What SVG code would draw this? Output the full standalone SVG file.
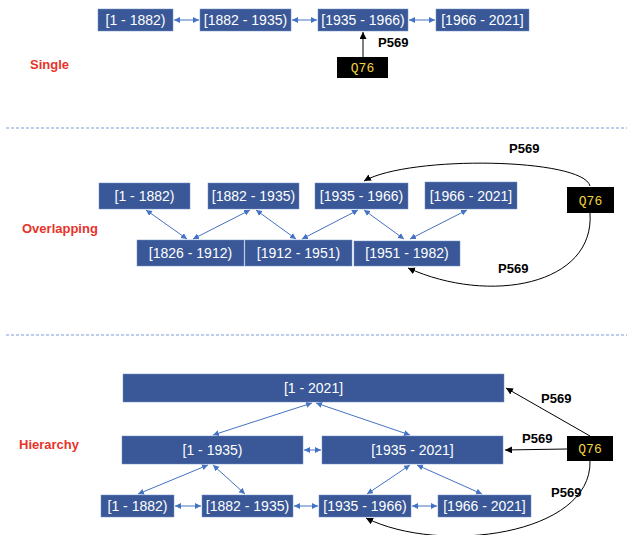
<svg xmlns="http://www.w3.org/2000/svg" width="627" height="535" viewBox="0 0 627 535">
<style>
.box{fill:#3A5897;stroke:#6F8CC4;stroke-width:0.5}
.bt{font-family:"Liberation Sans",Arial,sans-serif;font-size:14px;fill:#FFFFFF;text-anchor:middle}
.q{fill:#000000}
.qt{font-family:"Liberation Mono","Courier New",monospace;font-size:13px;fill:#F2D43D;text-anchor:middle}
.lbl{font-family:"Liberation Sans",Arial,sans-serif;font-size:13px;font-weight:bold;fill:#000000}
.sec{font-family:"Liberation Sans",Arial,sans-serif;font-size:13px;font-weight:bold;fill:#E8332A}
.bl{stroke:#4472C4;stroke-width:1;fill:none;marker-start:url(#ab);marker-end:url(#ab)}
.bk{stroke:#000000;stroke-width:1;fill:none;marker-end:url(#ak)}
.div{stroke:#A9BFE3;stroke-width:1.3;stroke-dasharray:3 2;fill:none}
</style>
<defs>
<marker id="ab" markerUnits="userSpaceOnUse" markerWidth="7" markerHeight="7" refX="6" refY="3" orient="auto-start-reverse"><path d="M0,0 L6,3 L0,6 z" fill="#4472C4"/></marker>
<marker id="ak" markerUnits="userSpaceOnUse" markerWidth="8" markerHeight="8" refX="7" refY="3.5" orient="auto"><path d="M0,0 L7,3.5 L0,7 z" fill="#000000"/></marker>
</defs>
<rect width="627" height="535" fill="#FFFFFF"/>

<path class="div" d="M6,128 H627"/>
<path class="div" d="M6,335 H627"/>

<text class="sec" x="30" y="69">Single</text>
<text class="sec" x="22" y="233">Overlapping</text>
<text class="sec" x="19" y="449">Hierarchy</text>

<g id="connectors">
<!-- single -->
<path class="bl" d="M174,20 H199"/>
<path class="bl" d="M292,20 H317"/>
<path class="bl" d="M409,20 H435"/>
<path class="bk" d="M363,57 V32"/>
<!-- overlapping -->
<path class="bl" d="M146,210 L187,239"/>
<path class="bl" d="M250,210 L193,239"/>
<path class="bl" d="M256,210 L296,239"/>
<path class="bl" d="M358,210 L302,239"/>
<path class="bl" d="M364,210 L404,239"/>
<path class="bl" d="M467,210 L410,239"/>
<path class="bk" d="M590,186 C583,158 410,155 364,181"/>
<path class="bk" d="M590,213 C595,285 490,305 408,268"/>
<!-- hierarchy -->
<path class="bl" d="M312,403 L213,435"/>
<path class="bl" d="M316,403 L410,435"/>
<path class="bl" d="M304,450 H321"/>
<path class="bl" d="M208,465 L138,494"/>
<path class="bl" d="M213,465 L245,494"/>
<path class="bl" d="M410,465 L367,494"/>
<path class="bl" d="M417,465 L482,494"/>
<path class="bl" d="M175,506 H201"/>
<path class="bl" d="M294,506 H318"/>
<path class="bl" d="M412,506 H437"/>
<path class="bk" d="M590,436 L506,388"/>
<path class="bk" d="M567,449 L505,450"/>
<path class="bk" d="M590,461 C592,535 440,555 366,518"/>
</g>

<g id="edge-labels">
<text class="lbl" x="378" y="47">P569</text>
<text class="lbl" x="509" y="153">P569</text>
<text class="lbl" x="498" y="273">P569</text>
<text class="lbl" x="541" y="403">P569</text>
<text class="lbl" x="522" y="443">P569</text>
<text class="lbl" x="551" y="497">P569</text>
</g>

<!-- Single -->
<g id="s1"><rect class="box" x="98" y="9" width="75" height="22"/><text class="bt" x="135.5" y="25">[1 - 1882)</text></g>
<g id="s2"><rect class="box" x="200" y="9" width="91" height="22"/><text class="bt" x="245.5" y="25">[1882 - 1935)</text></g>
<g id="s3"><rect class="box" x="318" y="9" width="90" height="22"/><text class="bt" x="363" y="25">[1935 - 1966)</text></g>
<g id="s4"><rect class="box" x="436" y="9" width="93" height="22"/><text class="bt" x="482.5" y="25">[1966 - 2021]</text></g>
<g id="sq"><rect class="q" x="337" y="57" width="51" height="21"/><text class="qt" x="362.5" y="72">Q76</text></g>

<!-- Overlapping -->
<g id="o1"><rect class="box" x="99" y="183" width="91" height="26"/><text class="bt" x="144.5" y="201">[1 - 1882)</text></g>
<g id="o2"><rect class="box" x="208" y="183" width="91" height="26"/><text class="bt" x="253.5" y="201">[1882 - 1935)</text></g>
<g id="o3"><rect class="box" x="315" y="183" width="93" height="26"/><text class="bt" x="361.5" y="201">[1935 - 1966)</text></g>
<g id="o4"><rect class="box" x="425" y="182" width="92" height="27"/><text class="bt" x="471" y="201">[1966 - 2021]</text></g>
<g id="o5"><rect class="box" x="137" y="240" width="107" height="26"/><text class="bt" x="190.5" y="258">[1826 - 1912)</text></g>
<g id="o6"><rect class="box" x="245" y="240" width="107" height="26"/><text class="bt" x="298.5" y="258">[1912 - 1951)</text></g>
<g id="o7"><rect class="box" x="354" y="241" width="106" height="25"/><text class="bt" x="407" y="258">[1951 - 1982)</text></g>
<g id="oq"><rect class="q" x="567" y="187" width="47" height="26"/><text class="qt" x="590.5" y="204.5">Q76</text></g>

<!-- Hierarchy -->
<g id="h0"><rect class="box" x="123" y="374" width="381" height="28"/><text class="bt" x="313.5" y="393">[1 - 2021]</text></g>
<g id="h1"><rect class="box" x="122" y="436" width="181" height="28"/><text class="bt" x="212.5" y="455">[1 - 1935)</text></g>
<g id="h2"><rect class="box" x="322" y="436" width="181" height="28"/><text class="bt" x="412.5" y="455">[1935 - 2021]</text></g>
<g id="h3"><rect class="box" x="101" y="495" width="73" height="22"/><text class="bt" x="137.5" y="511">[1 - 1882)</text></g>
<g id="h4"><rect class="box" x="202" y="495" width="91" height="22"/><text class="bt" x="247.5" y="511">[1882 - 1935)</text></g>
<g id="h5"><rect class="box" x="319" y="495" width="92" height="22"/><text class="bt" x="365" y="511">[1935 - 1966)</text></g>
<g id="h6"><rect class="box" x="438" y="495" width="93" height="22"/><text class="bt" x="484.5" y="511">[1966 - 2021]</text></g>
<g id="hq"><rect class="q" x="567" y="436" width="46" height="25"/><text class="qt" x="590" y="453">Q76</text></g>
</svg>
